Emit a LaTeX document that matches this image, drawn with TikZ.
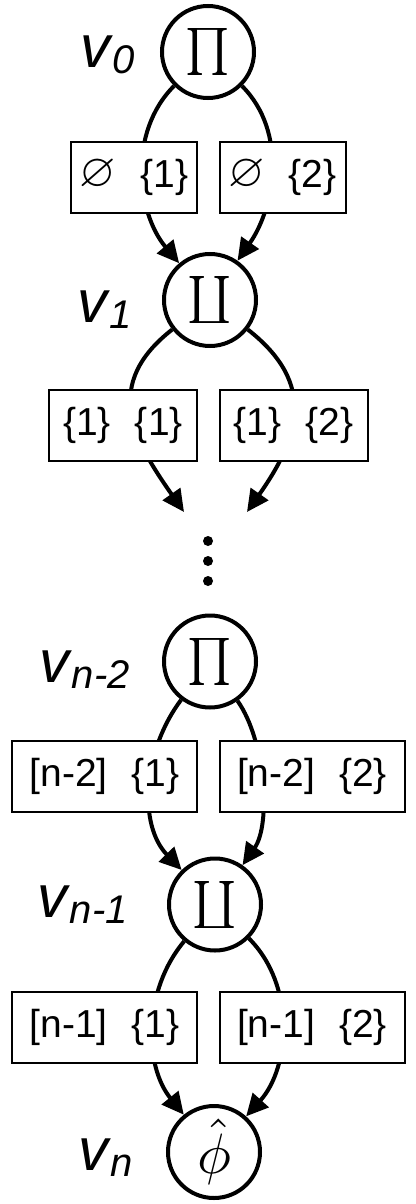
\RequirePackage{fix-cm}
\documentclass[tikz,border=0pt]{standalone}
\usepackage{fontspec}
\setmainfont{Liberation Sans}
\usepackage{amssymb}
\usepackage{graphicx}
\usetikzlibrary{arrows.meta}
\begin{document}
\begin{tikzpicture}[x=1pt,y=1pt,
  op/.style={circle,draw,line width=4pt,minimum size=92pt,inner sep=0pt},
  vlab/.style={anchor=base east,inner sep=0pt,font=\itshape},
  setbox/.style={draw,line width=2pt,fill=white,minimum height=71pt,inner xsep=0pt,inner ysep=0pt,font=\fontsize{39}{40}\selectfont},
  flow/.style={line width=4pt,-{Triangle[length=22pt,width=21pt]}},
]
\useasboundingbox (0,0) rectangle (415,-1204);
\newcommand{\vsym}[1]{{\fontsize{60}{62}\selectfont v}\hspace{2pt}\raisebox{-6pt}{\fontsize{40}{42}\selectfont #1}}
\newcommand{\esym}{\raisebox{1pt}{\scalebox{1.2}{$\varnothing$}}}

% operator nodes
\node[op] (v0) at (208,-52) {\scalebox{4.7}{$\prod$}};
\node[op] (v1) at (210,-300) {\scalebox{4.7}{$\coprod$}};
\node[op] (vn2) at (210,-661.5) {\scalebox{4.7}{$\prod$}};
\node[op] (vn1) at (215,-904.5) {\scalebox{4.7}{$\coprod$}};
\node[op] (vn) at (214,-1152) {\scalebox{5.7}{$\hat{\phi}$}};

% labels
\node[vlab] (l0) at (135,-68) {\vsym{0}};
\node[vlab] (l1) at (132,-322) {\vsym{1}};
\node[vlab] (ln2) at (130,-682) {\vsym{n-2}};
\node[vlab] (ln1) at (128,-917) {\vsym{n-1}};
\node[vlab] (ln) at (133,-1170) {\vsym{n}};

% dots
\coordinate (d1) at (184,-512);
\coordinate (d2) at (247,-512);
\fill (208,-541) circle (5pt) (208,-561) circle (5pt) (208,-581) circle (5pt);

% edges
\draw[flow] (v0) to[out=225,in=130,looseness=0.95] (v1);
\draw[flow] (v0) to[out=315,in=55,looseness=0.95] (v1);
\draw[flow] (v1) to[out=218,in=125,looseness=1.25] (d1);
\draw[flow] (v1) to[out=322,in=55,looseness=1.25] (d2);
\draw[flow] (vn2) to[out=233,in=134,looseness=0.95] (vn1);
\draw[flow] (vn2) to[out=305,in=55,looseness=0.77] (vn1);
\draw[flow] (vn1) to[out=230,in=129,looseness=0.94] (vn);
\draw[flow] (vn1) to[out=315,in=48,looseness=0.95] (vn);

% set boxes
\node[setbox,minimum width=126pt,anchor=east] (b01) at (198,-177) {\esym\hspace{24pt}\{1\}};
\node[setbox,minimum width=126pt,anchor=west] (b02) at (218.5,-177) {\esym\hspace{24pt}\{2\}};
\node[setbox,minimum width=148pt,anchor=east] (b11) at (198,-425.5) {\{1\}\hspace{24pt}\{1\}};
\node[setbox,minimum width=148pt,anchor=west] (b12) at (218.5,-425.5) {\{1\}\hspace{24pt}\{2\}};
\node[setbox,minimum width=185pt,anchor=east] (b21) at (198,-776) {[n-2]\hspace{24pt}\{1\}};
\node[setbox,minimum width=185pt,anchor=west] (b22) at (218.5,-776) {[n-2]\hspace{24pt}\{2\}};
\node[setbox,minimum width=185pt,anchor=east] (b31) at (198,-1027.5) {[n-1]\hspace{24pt}\{1\}};
\node[setbox,minimum width=185pt,anchor=west] (b32) at (218.5,-1027.5) {[n-1]\hspace{24pt}\{2\}};
\end{tikzpicture}
\end{document}
